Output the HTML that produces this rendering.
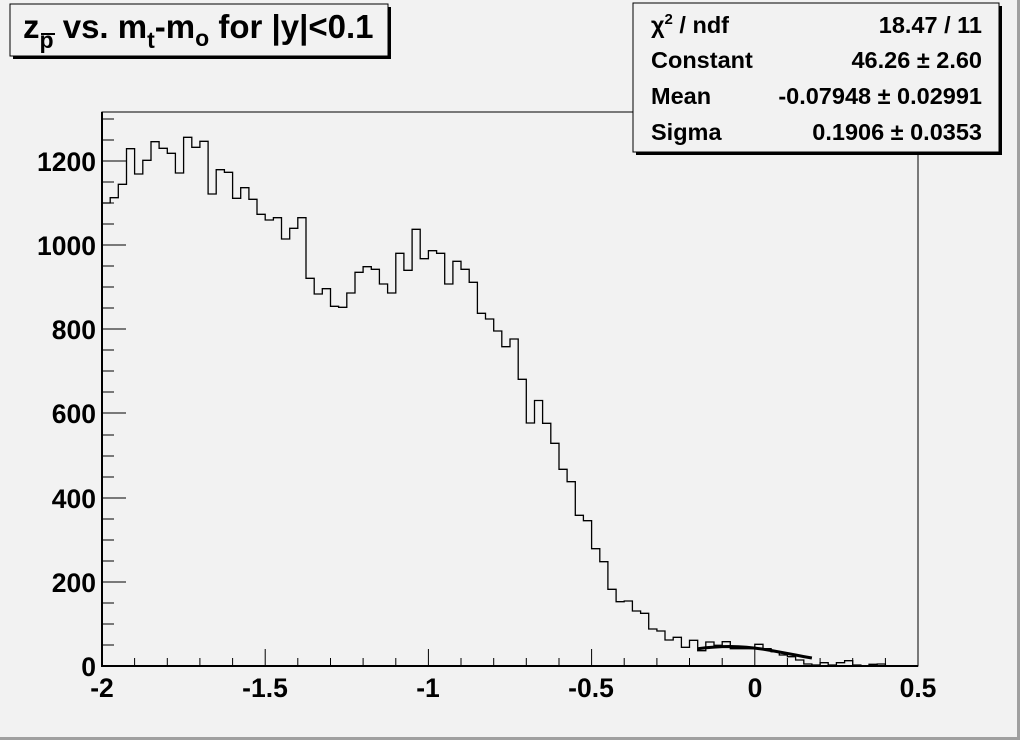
<!DOCTYPE html>
<html><head><style>html,body{margin:0;padding:0;background:#f2f2f2}svg{display:block}text{font-family:"Liberation Sans",Arial,sans-serif;font-weight:bold;fill:#000}</style></head>
<body>
<svg width="1020" height="740" viewBox="0 0 1020 740" xmlns="http://www.w3.org/2000/svg">
<rect x="0" y="0" width="1020" height="740" fill="#f2f2f2"/>
<rect x="1017" y="0" width="3" height="740" fill="#a0a0a0"/>
<rect x="0" y="737" width="1020" height="3" fill="#a0a0a0"/>
<rect x="102" y="112" width="816" height="554" fill="none" stroke="#000" stroke-width="1"/>
<line x1="102" y1="112" x2="102" y2="667" stroke="#000" stroke-width="2"/>
<line x1="101" y1="666" x2="918" y2="666" stroke="#000" stroke-width="2"/>
<g stroke="#000" stroke-width="1">
<line x1="102" y1="666" x2="126" y2="666"/><line x1="102" y1="645" x2="114" y2="645"/><line x1="102" y1="624" x2="114" y2="624"/><line x1="102" y1="603" x2="114" y2="603"/>
<line x1="102" y1="582" x2="126" y2="582"/><line x1="102" y1="561" x2="114" y2="561"/><line x1="102" y1="540" x2="114" y2="540"/><line x1="102" y1="519" x2="114" y2="519"/>
<line x1="102" y1="498" x2="126" y2="498"/><line x1="102" y1="477" x2="114" y2="477"/><line x1="102" y1="456" x2="114" y2="456"/><line x1="102" y1="435" x2="114" y2="435"/>
<line x1="102" y1="413" x2="126" y2="413"/><line x1="102" y1="392" x2="114" y2="392"/><line x1="102" y1="371" x2="114" y2="371"/><line x1="102" y1="350" x2="114" y2="350"/>
<line x1="102" y1="329" x2="126" y2="329"/><line x1="102" y1="308" x2="114" y2="308"/><line x1="102" y1="287" x2="114" y2="287"/><line x1="102" y1="266" x2="114" y2="266"/>
<line x1="102" y1="245" x2="126" y2="245"/><line x1="102" y1="224" x2="114" y2="224"/><line x1="102" y1="203" x2="114" y2="203"/><line x1="102" y1="182" x2="114" y2="182"/>
<line x1="102" y1="161" x2="126" y2="161"/><line x1="102" y1="140" x2="114" y2="140"/><line x1="102" y1="119" x2="114" y2="119"/>
</g>
<g stroke="#000" stroke-width="1">
<line x1="102" y1="666" x2="102" y2="649"/>
<line x1="134.6" y1="666" x2="134.6" y2="658"/><line x1="167.3" y1="666" x2="167.3" y2="658"/><line x1="199.9" y1="666" x2="199.9" y2="658"/><line x1="232.6" y1="666" x2="232.6" y2="658"/>
<line x1="265.2" y1="666" x2="265.2" y2="649"/>
<line x1="297.8" y1="666" x2="297.8" y2="658"/><line x1="330.5" y1="666" x2="330.5" y2="658"/><line x1="363.1" y1="666" x2="363.1" y2="658"/><line x1="395.8" y1="666" x2="395.8" y2="658"/>
<line x1="428.4" y1="666" x2="428.4" y2="649"/>
<line x1="461" y1="666" x2="461" y2="658"/><line x1="493.7" y1="666" x2="493.7" y2="658"/><line x1="526.3" y1="666" x2="526.3" y2="658"/><line x1="559" y1="666" x2="559" y2="658"/>
<line x1="591.6" y1="666" x2="591.6" y2="649"/>
<line x1="624.2" y1="666" x2="624.2" y2="658"/><line x1="656.9" y1="666" x2="656.9" y2="658"/><line x1="689.5" y1="666" x2="689.5" y2="658"/><line x1="722.2" y1="666" x2="722.2" y2="658"/>
<line x1="754.8" y1="666" x2="754.8" y2="649"/>
<line x1="787.4" y1="666" x2="787.4" y2="658"/><line x1="820.1" y1="666" x2="820.1" y2="658"/><line x1="852.7" y1="666" x2="852.7" y2="658"/><line x1="885.4" y1="666" x2="885.4" y2="658"/>
<line x1="918" y1="666" x2="918" y2="649"/>
</g>
<g font-size="26.5" text-anchor="end">
<text x="96" y="676">0</text><text x="96" y="592">200</text><text x="96" y="508">400</text><text x="96" y="423">600</text><text x="96" y="339">800</text><text x="96" y="255">1000</text><text x="96" y="171">1200</text>
</g>
<g font-size="26.5" text-anchor="middle">
<text x="102" y="697">-2</text><text x="265" y="697">-1.5</text><text x="428" y="697">-1</text><text x="591" y="697">-0.5</text><text x="755" y="697">0</text><text x="918" y="697">0.5</text>
</g>
<path fill="none" stroke="#000" stroke-width="1.3" d="M102,666 V203 H110.2 V197.7 H118.3 V184.3 H126.5 V148.7 H134.6 V174 H142.8 V160.3 H151 V141.7 H159.1 V148.3 H167.3 V153.3 H175.4 V173 H183.6 V137.3 H191.8 V147.3 H199.9 V141.3 H208.1 V194 H216.2 V169.7 H224.4 V172.3 H232.6 V198.3 H240.7 V187.7 H248.9 V199.3 H257 V214.3 H265.2 V220 H273.4 V217.7 H281.5 V239 H289.7 V228.3 H297.8 V217.7 H306 V278.3 H314.2 V294 H322.3 V288.7 H330.5 V306.3 H338.6 V307.3 H346.8 V293 H355 V272.3 H363.1 V266.7 H371.3 V269.3 H379.4 V284 H387.6 V293 H395.8 V253.3 H403.9 V270.3 H412.1 V229.3 H420.2 V258.7 H428.4 V250.7 H436.6 V253.3 H444.7 V284 H452.9 V261.3 H461 V269.3 H469.2 V282.3 H477.4 V313.3 H485.5 V319 H493.7 V331 H501.8 V346.7 H510 V339 H518.2 V379.3 H526.3 V423 H534.5 V400.5 H542.6 V423.3 H550.8 V443.3 H559 V469.3 H567.1 V481.7 H575.3 V515.3 H583.4 V520.7 H591.6 V548.7 H599.8 V561.7 H607.9 V589.3 H616.1 V601.7 H624.2 V601 H632.4 V611 H640.6 V613.3 H648.7 V629 H656.9 V631 H665 V640 H673.2 V637.3 H681.4 V647.3 H689.5 V640.3 H697.7 V650.7 H705.8 V642 H714 V645.3 H722.2 V641.7 H730.3 V648.7 H738.5 V648.7 H746.6 V648.7 H754.8 V644.3 H763 V648.7 H771.1 V651.7 H779.3 V655 H787.4 V656.7 H795.6 V660 H803.8 V664 H811.9 V665 H820.1 V662.7 H828.2 V665 H836.4 V662.7 H844.6 V660.7 H852.7 V665 H860.9 V665.7 H869 V664.3 H877.2 V664 H885.4 V666"/>
<polyline fill="none" stroke="#000" stroke-width="3" points="697.7,648.8 705.8,647.8 714,647.1 722.2,646.6 730.3,646.5 738.5,646.8 746.6,647.3 754.8,648.1 763,649.2 771.1,650.5 779.3,652 787.4,653.5 795.6,655 803.8,656.6 811.9,658"/>
<rect x="13" y="7" width="378" height="52" fill="#000"/>
<rect x="10" y="4" width="378" height="52" fill="#f2f2f2" stroke="#000" stroke-width="1"/>
<text x="23" y="38" font-size="33">z<tspan font-size="23" dy="10">p</tspan><tspan dy="-10"> vs. m</tspan><tspan font-size="23" dy="10">t</tspan><tspan dy="-10">-m</tspan><tspan font-size="23" dy="8">o</tspan><tspan dy="-8"> for |y|&lt;0.1</tspan></text>
<line x1="41" y1="34" x2="55" y2="34" stroke="#000" stroke-width="2"/>
<rect x="636" y="6" width="366" height="149" fill="#000"/>
<rect x="633" y="3" width="366" height="149" fill="#f2f2f2" stroke="#000" stroke-width="1"/>
<g font-size="23.5">
<text x="651" y="33">χ<tspan font-size="15" dy="-9">2</tspan><tspan dy="9"> / ndf</tspan></text>
<text x="651" y="68">Constant</text>
<text x="651" y="104">Mean</text>
<text x="651" y="140">Sigma</text>
</g>
<g font-size="23.5" text-anchor="end">
<text x="982" y="33">18.47 / 11</text>
<text x="982" y="68">46.26 ± 2.60</text>
<text x="982" y="104">-0.07948 ± 0.02991</text>
<text x="982" y="140">0.1906 ± 0.0353</text>
</g>
</svg>
</body></html>
